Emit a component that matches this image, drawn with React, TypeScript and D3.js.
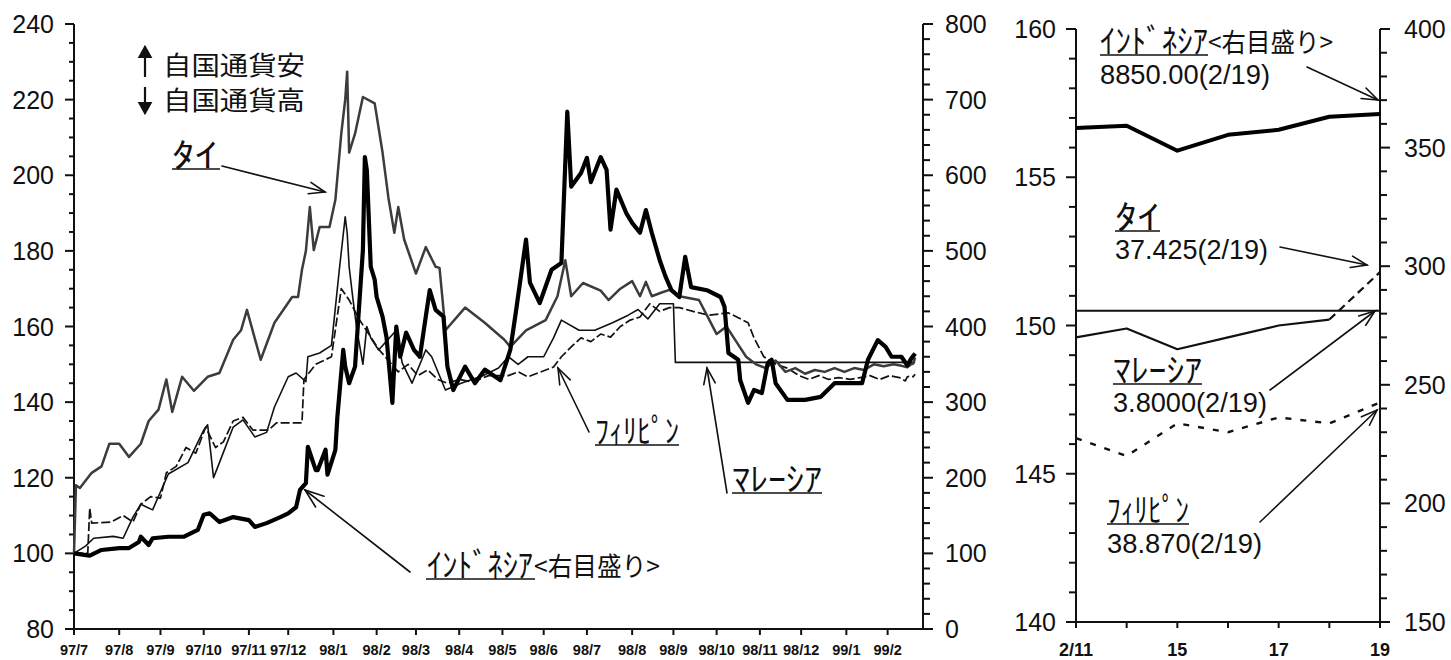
import React from "react";
import * as d3 from "d3";

// ---------- data (left chart: index, 1997/7/1 = 100) ----------
const monthTicks = [
  "1997-07-01", "1997-08-01", "1997-09-01", "1997-10-01", "1997-11-01", "1997-12-01",
  "1998-01-01", "1998-02-01", "1998-03-01", "1998-04-01", "1998-05-01", "1998-06-01",
  "1998-07-01", "1998-08-01", "1998-09-01", "1998-10-01", "1998-11-01", "1998-12-01",
  "1999-01-01", "1999-02-01",
];
const monthLabels = [
  "97/7", "97/8", "97/9", "97/10", "97/11", "97/12", "98/1", "98/2", "98/3", "98/4",
  "98/5", "98/6", "98/7", "98/8", "98/9", "98/10", "98/11", "98/12", "99/1", "99/2",
];
const leftTicks = [80, 100, 120, 140, 160, 180, 200, 220, 240];
const rightTicks = [0, 100, 200, 300, 400, 500, 600, 700, 800];

const thai: [string, number][] = [
  ["1997-07-01", 100], ["1997-07-02", 118], ["1997-07-04", 117.3], ["1997-07-14", 121.3],
  ["1997-07-21", 123], ["1997-07-25", 129], ["1997-08-01", 129], ["1997-08-08", 125.5],
  ["1997-08-18", 129], ["1997-08-22", 135], ["1997-08-29", 138], ["1997-09-04", 146],
  ["1997-09-09", 137.4], ["1997-09-16", 146.7], ["1997-09-24", 143], ["1997-10-03", 146.7],
  ["1997-10-13", 147.7], ["1997-10-22", 156.5], ["1997-10-28", 159], ["1997-10-31", 164.4],
  ["1997-11-11", 151.2], ["1997-11-20", 161], ["1997-12-03", 167.8], ["1997-12-08", 167.8],
  ["1997-12-10", 175], ["1997-12-12", 180], ["1997-12-16", 191.6], ["1997-12-18", 180.2],
  ["1997-12-23", 186.3], ["1997-12-30", 186.3], ["1998-01-02", 193.5], ["1998-01-07", 211],
  ["1998-01-09", 220], ["1998-01-12", 227.4], ["1998-01-13", 206], ["1998-01-16", 211],
  ["1998-01-22", 220.7], ["1998-01-30", 219], ["1998-02-05", 206], ["1998-02-10", 194],
  ["1998-02-13", 184.8], ["1998-02-17", 191.6], ["1998-02-20", 183], ["1998-03-02", 174],
  ["1998-03-09", 181], ["1998-03-16", 175.8], ["1998-03-18", 175.5], ["1998-03-23", 159],
  ["1998-04-06", 165], ["1998-04-20", 161], ["1998-05-04", 156.5], ["1998-05-07", 154.6],
  ["1998-05-19", 159], ["1998-06-02", 161.7], ["1998-06-10", 168], ["1998-06-16", 177.5],
  ["1998-06-19", 168], ["1998-06-29", 171.5], ["1998-07-10", 169.5], ["1998-07-16", 167],
  ["1998-07-24", 170], ["1998-08-03", 172], ["1998-08-07", 168], ["1998-08-12", 171.8],
  ["1998-08-17", 168], ["1998-08-24", 169], ["1998-08-28", 169.7], ["1998-09-04", 168],
  ["1998-09-18", 167], ["1998-09-25", 162], ["1998-10-01", 158], ["1998-10-08", 160],
  ["1998-10-15", 156], ["1998-10-22", 152], ["1998-10-29", 150], ["1998-11-05", 149],
  ["1998-11-12", 151], ["1998-11-19", 148], ["1998-11-26", 149], ["1998-12-03", 147.5],
  ["1998-12-10", 148.5], ["1998-12-17", 148], ["1998-12-24", 149], ["1998-12-31", 148],
  ["1999-01-07", 149], ["1999-01-14", 148.5], ["1999-01-21", 150], ["1999-01-28", 149.5],
  ["1999-02-04", 150], ["1999-02-10", 149.6], ["1999-02-15", 149.2], ["1999-02-17", 150],
  ["1999-02-18", 150.2], ["1999-02-19", 151.8],
];

const malaysia: [string, number][] = [
  ["1997-07-01", 100], ["1997-07-09", 102], ["1997-07-15", 104], ["1997-07-29", 104.5],
  ["1997-08-05", 104], ["1997-08-12", 109.6], ["1997-08-18", 113], ["1997-08-26", 111.5],
  ["1997-09-03", 118.6], ["1997-09-05", 121], ["1997-09-19", 124], ["1997-10-01", 132.6],
  ["1997-10-03", 134], ["1997-10-08", 120], ["1997-10-13", 124], ["1997-10-22", 133.4],
  ["1997-10-29", 135.3], ["1997-11-06", 130.8], ["1997-11-14", 132], ["1997-11-20", 138.7],
  ["1997-12-01", 146.7], ["1997-12-05", 147.7], ["1997-12-12", 145.4], ["1997-12-15", 152],
  ["1997-12-23", 153], ["1997-12-31", 155], ["1998-01-06", 175], ["1998-01-09", 189],
  ["1998-01-12", 184.8], ["1998-01-13", 175.8], ["1998-01-15", 167], ["1998-01-19", 159],
  ["1998-01-22", 150], ["1998-01-26", 160], ["1998-01-28", 157], ["1998-02-03", 153.8],
  ["1998-02-16", 159], ["1998-02-19", 150.4], ["1998-02-26", 145], ["1998-03-09", 153.8],
  ["1998-03-12", 152], ["1998-03-23", 143.2], ["1998-04-02", 145], ["1998-04-17", 147],
  ["1998-04-29", 149], ["1998-05-06", 152], ["1998-05-13", 150], ["1998-05-20", 152],
  ["1998-06-01", 152], ["1998-06-08", 157], ["1998-06-12", 161.7], ["1998-06-25", 159],
  ["1998-07-07", 159], ["1998-07-20", 161], ["1998-07-30", 163], ["1998-08-06", 164.5],
  ["1998-08-13", 162], ["1998-08-21", 166], ["1998-09-01", 166], ["1998-09-02", 150.5],
  ["1999-02-19", 150.5],
];

const philippines: [string, number][] = [
  ["1997-07-01", 100], ["1997-07-10", 100], ["1997-07-11", 112], ["1997-07-14", 108],
  ["1997-07-28", 108.3], ["1997-08-05", 110], ["1997-08-12", 108.3], ["1997-08-18", 113],
  ["1997-08-25", 115], ["1997-09-01", 114.6], ["1997-09-04", 121.3], ["1997-09-11", 123],
  ["1997-09-18", 128], ["1997-09-25", 126.5], ["1997-10-02", 133.4], ["1997-10-09", 128],
  ["1997-10-15", 129.5], ["1997-10-22", 135], ["1997-10-29", 136], ["1997-11-05", 132.6],
  ["1997-11-17", 132.6], ["1997-11-21", 134.5], ["1997-12-10", 134.5], ["1997-12-11", 146],
  ["1997-12-19", 150], ["1997-12-31", 152], ["1998-01-07", 170], ["1998-01-13", 167],
  ["1998-01-20", 162], ["1998-01-27", 158], ["1998-02-03", 154], ["1998-02-10", 151],
  ["1998-02-17", 148], ["1998-02-24", 150], ["1998-03-03", 147], ["1998-03-10", 148.5],
  ["1998-03-17", 146], ["1998-03-24", 145], ["1998-04-01", 146], ["1998-04-08", 145.5],
  ["1998-04-15", 146], ["1998-04-22", 147], ["1998-05-06", 147], ["1998-05-13", 148],
  ["1998-05-20", 146.7], ["1998-06-08", 149.3], ["1998-06-12", 152], ["1998-06-19", 154.6],
  ["1998-06-26", 157], ["1998-07-03", 156], ["1998-07-10", 158], ["1998-07-17", 157.2],
  ["1998-07-24", 160], ["1998-07-31", 161.7], ["1998-08-07", 162.5], ["1998-08-14", 166],
  ["1998-08-21", 164], ["1998-08-28", 165], ["1998-09-04", 165], ["1998-09-15", 164],
  ["1998-09-25", 163], ["1998-10-09", 163.6], ["1998-10-23", 161], ["1998-10-28", 157],
  ["1998-11-04", 152], ["1998-11-12", 150], ["1998-11-20", 149], ["1998-11-30", 147],
  ["1998-12-07", 146], ["1998-12-14", 147], ["1998-12-21", 146], ["1998-12-28", 146.5],
  ["1999-01-05", 146], ["1999-01-12", 146.5], ["1999-01-19", 147], ["1999-01-26", 146],
  ["1999-02-02", 147], ["1999-02-09", 146.5], ["1999-02-12", 145.6], ["1999-02-15", 146.7],
  ["1999-02-17", 146.9], ["1999-02-18", 146.7], ["1999-02-19", 147.4],
];

// Indonesia is read on the right axis (0-800)
const indonesia: [string, number][] = [
  ["1997-07-01", 100], ["1997-07-11", 97], ["1997-07-21", 104.5], ["1997-08-01", 107],
  ["1997-08-08", 107], ["1997-08-15", 115], ["1997-08-18", 122], ["1997-08-22", 111],
  ["1997-08-26", 120], ["1997-09-05", 122], ["1997-09-17", 122], ["1997-09-26", 131],
  ["1997-10-01", 151], ["1997-10-06", 153], ["1997-10-13", 141.5], ["1997-10-22", 148],
  ["1997-11-03", 144], ["1997-11-06", 135], ["1997-11-14", 140], ["1997-11-25", 148],
  ["1997-12-01", 153], ["1997-12-05", 161], ["1997-12-09", 184], ["1997-12-12", 193],
  ["1997-12-15", 241], ["1997-12-19", 210], ["1997-12-22", 210], ["1997-12-26", 237],
  ["1997-12-29", 204], ["1998-01-02", 237], ["1998-01-05", 280], ["1998-01-08", 369],
  ["1998-01-09", 347], ["1998-01-13", 325], ["1998-01-16", 347], ["1998-01-22", 501],
  ["1998-01-23", 624], ["1998-01-26", 607], ["1998-01-28", 479], ["1998-01-30", 462],
  ["1998-02-02", 439], ["1998-02-05", 413], ["1998-02-09", 386], ["1998-02-12", 299],
  ["1998-02-16", 400], ["1998-02-18", 360], ["1998-02-23", 392], ["1998-02-27", 369],
  ["1998-03-04", 360], ["1998-03-09", 413], ["1998-03-11", 448], ["1998-03-16", 422],
  ["1998-03-20", 413], ["1998-03-24", 347], ["1998-03-27", 316], ["1998-04-06", 347],
  ["1998-04-13", 325], ["1998-04-20", 343], ["1998-04-30", 329], ["1998-05-07", 369],
  ["1998-05-12", 422], ["1998-05-19", 515], ["1998-05-21", 458], ["1998-05-28", 431],
  ["1998-06-05", 475], ["1998-06-12", 484], ["1998-06-17", 684], ["1998-06-19", 585],
  ["1998-06-26", 603], ["1998-07-01", 623], ["1998-07-03", 591], ["1998-07-10", 624],
  ["1998-07-15", 607], ["1998-07-17", 528], ["1998-07-22", 581], ["1998-07-29", 550],
  ["1998-08-03", 537], ["1998-08-07", 524], ["1998-08-12", 554], ["1998-08-17", 524],
  ["1998-08-21", 488], ["1998-08-26", 466], ["1998-08-31", 448], ["1998-09-04", 439],
  ["1998-09-09", 492], ["1998-09-14", 452], ["1998-09-24", 448], ["1998-10-05", 439],
  ["1998-10-07", 426], ["1998-10-09", 365], ["1998-10-16", 356], ["1998-10-19", 329],
  ["1998-10-23", 299], ["1998-10-28", 316], ["1998-11-03", 312], ["1998-11-06", 352],
  ["1998-11-10", 356], ["1998-11-12", 325], ["1998-11-20", 303], ["1998-12-03", 303],
  ["1998-12-15", 307], ["1998-12-24", 325], ["1999-01-13", 325], ["1999-01-18", 356],
  ["1999-01-25", 382], ["1999-01-29", 373], ["1999-02-03", 360], ["1999-02-10", 360],
  ["1999-02-15", 348.7], ["1999-02-17", 357.5], ["1999-02-19", 364.2],
];

// ---------- data (right panel: 2/11 - 2/19) ----------
const rDays = ["2/11", "2/12", "2/15", "2/16", "2/17", "2/18", "2/19"];
const rDayLabels = ["2/11", "", "15", "", "17", "", "19"];
const rIndonesia = [358.3, 359.2, 348.7, 355.4, 357.5, 363.0, 364.2];
const rThai = [149.6, 149.9, 149.2, 149.6, 150.0, 150.2, 151.8];
const rMalaysia = [150.5, 150.5, 150.5, 150.5, 150.5, 150.5, 150.5];
const rPhilippines = [146.2, 145.6, 146.7, 146.4, 146.9, 146.7, 147.4];
const rLeftTicks = [140, 145, 150, 155, 160];
const rRightTicks = [150, 200, 250, 300, 350, 400];

// ---------- helpers ----------
const parse = d3.timeParse("%Y-%m-%d");
const START = parse("1997-07-01") as Date;
function bizIndex(s: string): number {
  const d = parse(s) as Date;
  const n = d3.timeDay.count(START, d);
  let c = Math.floor(n / 7) * 5;
  const sd = START.getDay();
  for (let i = 0; i < n % 7; i++) {
    const w = (sd + i) % 7;
    if (w !== 0 && w !== 6) c++;
  }
  return c;
}

const NUM = "'Liberation Sans', Arial, Helvetica, sans-serif";
const JP = "'Noto Sans CJK JP', 'Noto Sans CJK SC', sans-serif";

function Arrow({ x1, y1, x2, y2, head = 17, ang = 20, w = 1.6 }: any) {
  const a = Math.atan2(y1 - y2, x1 - x2);
  const r = (ang * Math.PI) / 180;
  const h1 = [x2 + head * Math.cos(a + r), y2 + head * Math.sin(a + r)];
  const h2 = [x2 + head * Math.cos(a - r), y2 + head * Math.sin(a - r)];
  return (
    <g stroke="#111" strokeWidth={w} fill="none" strokeLinecap="round">
      <line x1={x1} y1={y1} x2={x2} y2={y2} />
      <polyline points={`${h1[0]},${h1[1]} ${x2},${y2} ${h2[0]},${h2[1]}`} />
    </g>
  );
}

export default function App() {
  // left chart scales
  const x = d3.scaleLinear().domain([0, 432]).range([74, 923]);
  const yL = d3.scaleLinear().domain([80, 240]).range([629, 24]);
  const yR = d3.scaleLinear().domain([0, 800]).range([629, 24]);
  const lineL = d3
    .line<[string, number]>()
    .x((d) => x(bizIndex(d[0])))
    .y((d) => yL(d[1]));
  const lineR = d3
    .line<[string, number]>()
    .x((d) => x(bizIndex(d[0])))
    .y((d) => yR(d[1]));

  // right panel scales
  const xr = d3.scalePoint<string>().domain(rDays).range([1076, 1380]);
  const yrL = d3.scaleLinear().domain([140, 160]).range([622, 29]);
  const yrR = d3.scaleLinear().domain([150, 400]).range([622, 29]);
  const rLine = (vals: number[], y: any, offset = 0) =>
    d3
      .line<number>()
      .x((_, i) => xr(rDays[i + offset]) as number)
      .y((v) => y(v))(vals) as string;

  const L0 = 74, L1 = 923, LB = 629, LT = 24;
  const R0 = 1076, R1 = 1380, RB = 622, RT = 29;

  return (
    <svg
      width={1451}
      height={660}
      style={{ position: "absolute", left: 0, top: 0, background: "#fff" }}
    >
      <rect width={1451} height={660} fill="#fff" />

      {/* ===== LEFT CHART ===== */}
      <g stroke="#111" strokeWidth={2} fill="none">
        <line x1={L0} y1={LT} x2={L0} y2={LB} />
        <line x1={L1} y1={LT} x2={L1} y2={LB} />
        <line x1={L0 - 8} y1={LB} x2={L1} y2={LB} />
        {d3.range(80, 241, 5).map((v) => (
          <line key={"lt" + v} x1={v % 20 === 0 ? L0 - 9 : L0 - 5} x2={L0} y1={yL(v)} y2={yL(v)} />
        ))}
        {d3.range(0, 801, 20).map((v) => (
          <line key={"rt" + v} x1={L1} x2={v % 100 === 0 ? L1 + 10 : L1 + 7} y1={yR(v)} y2={yR(v)} />
        ))}
        {monthTicks.map((m) => (
          <line key={"xt" + m} x1={x(bizIndex(m))} x2={x(bizIndex(m))} y1={LB} y2={LB + 6} />
        ))}
      </g>
      <g fontFamily={NUM} fontSize={25} fill="#111">
        {leftTicks.map((v) => (
          <text key={"ll" + v} x={54} y={yL(v) + 9} textAnchor="end">{v}</text>
        ))}
        {rightTicks.map((v) => (
          <text key={"rl" + v} x={945} y={yR(v) + 9}>{v}</text>
        ))}
      </g>
      <g fontFamily={NUM} fontSize={14.5} fontWeight="bold" fill="#111">
        {monthTicks.map((m, i) => (
          <text key={"xl" + m} x={x(bizIndex(m))} y={655} textAnchor="middle">{monthLabels[i]}</text>
        ))}
      </g>

      {/* series */}
      <path d={lineL(malaysia) as string} fill="none" stroke="#111" strokeWidth={1.6} strokeLinejoin="round" />
      <path d={lineL(philippines) as string} fill="none" stroke="#111" strokeWidth={1.7} strokeDasharray="9,3" strokeLinejoin="round" />
      <path d={lineL(thai) as string} fill="none" stroke="#3c3c3c" strokeWidth={2.5} strokeLinejoin="round" />
      <path d={lineR(indonesia) as string} fill="none" stroke="#000" strokeWidth={4.2} strokeLinejoin="round" />

      {/* legend arrows */}
      <g stroke="#111" strokeWidth={2.2} fill="#111">
        <line x1={145} y1={52} x2={145} y2={77} />
        <polygon points="139.5,57 145,47 150.5,57" />
        <line x1={145} y1={87} x2={145} y2={108} />
        <polygon points="139.5,103 145,113 150.5,103" />
      </g>
      <g fontFamily={JP} fontSize={26} fill="#111">
        <text x={163} y={75} textLength={142} lengthAdjust="spacingAndGlyphs">自国通貨安</text>
        <text x={163} y={110} textLength={142} lengthAdjust="spacingAndGlyphs">自国通貨高</text>
      </g>

      {/* annotations left */}
      <g fontFamily={JP} fontSize={33} fill="#111">
        <text x={172} y={167} textLength={46} lengthAdjust="spacingAndGlyphs">ﾀｲ</text>
        <text x={595} y={443} textLength={84} lengthAdjust="spacingAndGlyphs">ﾌｨﾘﾋﾟﾝ</text>
        <text x={732} y={491} textLength={90} lengthAdjust="spacingAndGlyphs">ﾏﾚｰｼｱ</text>
        <text x={427} y={577} textLength={106} lengthAdjust="spacingAndGlyphs">ｲﾝﾄﾞﾈｼｱ</text>
      </g>
      <text x={534} y={576} fontFamily={JP} fontSize={26} fill="#111" textLength={126} lengthAdjust="spacingAndGlyphs">&lt;右目盛り&gt;</text>
      <g stroke="#111" strokeWidth={1.6}>
        <line x1={172} x2={220} y1={169} y2={169} />
        <line x1={595} x2={679} y1={445} y2={445} />
        <line x1={732} x2={822} y1={493} y2={493} />
        <line x1={426} x2={535} y1={579} y2={579} />
      </g>
      <Arrow x1={222} y1={166} x2={325} y2={192} />
      <Arrow x1={589} y1={432} x2={558} y2={368} />
      <Arrow x1={727} y1={493} x2={707} y2={368} />
      <Arrow x1={410} y1={572} x2={305} y2={490} head={20} />

      {/* ===== RIGHT PANEL ===== */}
      <g stroke="#111" strokeWidth={2} fill="none">
        <line x1={R0} y1={RT} x2={R0} y2={RB} />
        <line x1={R1} y1={RT} x2={R1} y2={RB} />
        <line x1={R0 - 9} y1={RB} x2={R1} y2={RB} />
        {d3.range(140, 160.5, 1).map((v) => (
          <line key={"rlt" + v} x1={v % 5 === 0 ? R0 - 10 : R0 - 7} x2={R0} y1={yrL(v)} y2={yrL(v)} />
        ))}
        {d3.range(150, 400.5, 10).map((v) => (
          <line key={"rrt" + v} x1={R1} x2={v % 50 === 0 ? R1 + 10 : R1 + 7} y1={yrR(v)} y2={yrR(v)} />
        ))}
        {rDays.map((d) => (
          <line key={"rxt" + d} x1={xr(d) as number} x2={xr(d) as number} y1={RB} y2={RB + 6} />
        ))}
      </g>
      <g fontFamily={NUM} fontSize={25} fill="#111">
        {rLeftTicks.map((v) => (
          <text key={"rll" + v} x={1056} y={yrL(v) + 9} textAnchor="end">{v}</text>
        ))}
        {rRightTicks.map((v) => (
          <text key={"rrl" + v} x={1404} y={yrR(v) + 9}>{v}</text>
        ))}
      </g>
      <g fontFamily={NUM} fontSize={18} fontWeight="bold" fill="#111">
        {rDays.map((d, i) =>
          rDayLabels[i] ? (
            <text key={"rxl" + d} x={xr(d) as number} y={656} textAnchor="middle">{rDayLabels[i]}</text>
          ) : null
        )}
      </g>

      <path d={rLine(rMalaysia, yrL)} fill="none" stroke="#111" strokeWidth={2} />
      <path d={rLine(rThai.slice(0, 6), yrL)} fill="none" stroke="#111" strokeWidth={2.2} strokeLinejoin="round" />
      <path d={rLine(rThai.slice(5), yrL, 5)} fill="none" stroke="#111" strokeWidth={2.2} strokeDasharray="8,5" />
      <path d={rLine(rPhilippines, yrL)} fill="none" stroke="#111" strokeWidth={2.4} strokeDasharray="6,9" />
      <path d={rLine(rIndonesia, yrR)} fill="none" stroke="#000" strokeWidth={4} strokeLinejoin="round" />

      <g fontFamily={JP} fontSize={33} fill="#111">
        <text x={1100} y={53} textLength={108} lengthAdjust="spacingAndGlyphs">ｲﾝﾄﾞﾈｼｱ</text>
        <text x={1115} y={229} textLength={45} lengthAdjust="spacingAndGlyphs">ﾀｲ</text>
        <text x={1113} y={382} textLength={89} lengthAdjust="spacingAndGlyphs">ﾏﾚｰｼｱ</text>
        <text x={1107} y={522} textLength={82} lengthAdjust="spacingAndGlyphs">ﾌｨﾘﾋﾟﾝ</text>
      </g>
      <text x={1208} y={52} fontFamily={JP} fontSize={26} fill="#111" textLength={125} lengthAdjust="spacingAndGlyphs">&lt;右目盛り&gt;</text>
      <g stroke="#111" strokeWidth={1.6}>
        <line x1={1100} x2={1208} y1={55} y2={55} />
        <line x1={1115} x2={1160} y1={231} y2={231} />
        <line x1={1113} x2={1202} y1={384} y2={384} />
        <line x1={1107} x2={1189} y1={524} y2={524} />
      </g>
      <g fontFamily={NUM} fontSize={27} fill="#111">
        <text x={1100} y={84} textLength={170} lengthAdjust="spacingAndGlyphs">8850.00(2/19)</text>
        <text x={1115} y={259} textLength={153} lengthAdjust="spacingAndGlyphs">37.425(2/19)</text>
        <text x={1113} y={412} textLength={154} lengthAdjust="spacingAndGlyphs">3.8000(2/19)</text>
        <text x={1107} y={553} textLength={155} lengthAdjust="spacingAndGlyphs">38.870(2/19)</text>
      </g>
      <Arrow x1={1307} y1={67} x2={1378} y2={100} />
      <Arrow x1={1280} y1={247} x2={1367} y2={265} />
      <Arrow x1={1270} y1={390} x2={1375} y2={311} />
      <Arrow x1={1260} y1={522} x2={1377} y2={410} />
    </svg>
  );
}
